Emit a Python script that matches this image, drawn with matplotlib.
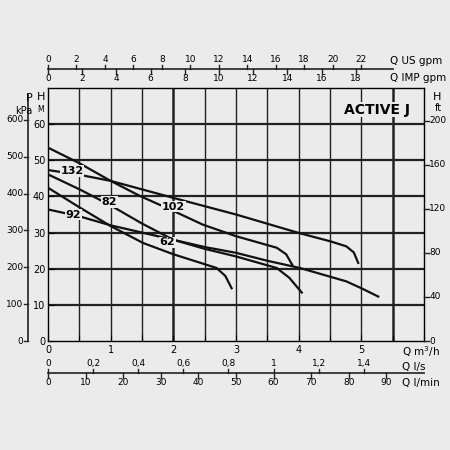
import matplotlib
matplotlib.use("Agg")
import matplotlib.pyplot as plt
import numpy as np
from matplotlib.transforms import blended_transform_factory

BG = "#ebebeb"
# curves: Q (m3/h), H (m)
q132 = [0, 0.5, 1.0, 2.0, 3.0, 4.0, 4.5, 4.76, 4.88, 4.95]
h132 = [47.3, 46.0, 44.3, 39.6, 35.0, 29.9, 27.6, 26.2, 24.5, 21.6]
q102 = [0, 0.5, 1.0, 1.47, 2.0, 2.47, 3.0, 3.65, 3.8, 3.9]
h102 = [53.5, 49.2, 44.3, 40.1, 36.0, 32.2, 29.0, 25.8, 24.0, 21.0]
q82 = [0, 0.51, 1.0, 1.5, 2.0, 2.5, 3.0, 3.65, 3.85, 4.05]
h82 = [46.1, 41.9, 37.5, 32.5, 28.0, 25.5, 23.4, 20.2, 17.5, 13.4]
q92 = [0, 0.5, 1.0, 1.5, 2.0, 2.5, 3.0, 3.5, 4.02, 4.76, 5.0, 5.27]
h92 = [36.4, 34.5, 32.0, 30.0, 28.0, 26.0, 24.4, 22.2, 20.2, 16.5, 14.6, 12.3]
q62 = [0, 0.5, 1.0, 1.52, 2.0, 2.4, 2.69, 2.83, 2.93]
h62 = [42.4, 37.0, 31.8, 27.1, 24.0, 21.8, 20.2, 18.0, 14.6]
curves = [("132", q132, h132, 0.38, 47.0), ("102", q102, h102, 2.0, 37.2),
          ("82", q82, h82, 0.98, 38.5), ("92", q92, h92, 0.4, 35.0),
          ("62", q62, h62, 1.9, 27.3)]

m_ticks = [0, 1, 2, 3, 4, 5]
h_ticks = [0, 10, 20, 30, 40, 50, 60]
kpa_ticks = [0, 100, 200, 300, 400, 500, 600]
ft_ticks = [0, 40, 80, 120, 160, 200]
us_ticks = [0, 2, 4, 6, 8, 10, 12, 14, 16, 18, 20, 22]
imp_ticks = [0, 2, 4, 6, 8, 10, 12, 14, 16, 18]
ls_ticks = [0, 0.2, 0.4, 0.6, 0.8, 1, 1.2, 1.4]
lmin_ticks = [0, 10, 20, 30, 40, 50, 60, 70, 80, 90]

fig = plt.figure(figsize=(4.5, 4.5), dpi=100, facecolor=BG)
L, R, B, T = 48/450, 424/450, 1-341/450, 1-88/450
ax = fig.add_axes([L, B, R-L, T-B], facecolor=BG)
ax.set_xlim(0, 6)
ax.set_ylim(0, 70)
for x in np.arange(0.5, 6, 0.5):
    lw = 1.8 if x in (2.0, 5.5) else 1.0
    ax.axvline(x, color="#222", lw=lw, zorder=1)
for y in range(10, 70, 10):
    ax.axhline(y, color="#222", lw=1.6, zorder=1)
for s in ax.spines.values():
    s.set_linewidth(1.0)
for name, q, h, lx, ly in curves:
    ax.plot(q, h, color="#111", lw=1.6, zorder=3)
    ax.text(lx, ly, name, fontsize=8, fontweight="bold", family="Liberation Sans Narrow",
            ha="center", va="center", zorder=4,
            bbox=dict(facecolor=BG, edgecolor="none", pad=0.5))
ax.text(5.78, 64, "ACTIVE J", fontsize=10, fontweight="bold", ha="right", va="center",
        family="Liberation Sans Narrow", zorder=5,
        bbox=dict(facecolor=BG, edgecolor="none", pad=0.3))
ax.set_xticks(np.arange(0, 6.01, 0.5))
ax.set_xticklabels([str(int(v)) if v in m_ticks else "" for v in np.arange(0, 6.01, 0.5)])
ax.set_yticks(h_ticks)
ax.tick_params(axis="both", labelsize=7, direction="in", length=4, pad=2)
ax.tick_params(axis="x", pad=3)
ax.set_yticklabels([str(v) for v in h_ticks])

# P kPa axis at left
tr = blended_transform_factory(fig.transFigure, ax.transData)
xp = 28/450
fig.add_artist(plt.Line2D([xp, xp], [0, 68], transform=tr, color="#222", lw=1.2))
for k in kpa_ticks:
    hy = k / 9.81
    fig.add_artist(plt.Line2D([xp-0.008, xp], [hy, hy], transform=tr, color="#222", lw=1))
    fig.text(xp-0.01, hy, str(k), transform=tr, fontsize=6.5, ha="right", va="center")
# ft axis right
for f in ft_ticks:
    hy = f * 0.3048
    fig.add_artist(plt.Line2D([R, R+0.01], [hy, hy], transform=tr, color="#222", lw=1))
    fig.text(R+0.012, hy, str(f), transform=tr, fontsize=6.5, ha="left", va="center")

trx = blended_transform_factory(ax.transData, fig.transFigure)
def scale(yf, ticks, x_end, factor):
    fig.add_artist(plt.Line2D([0, x_end], [yf, yf], transform=trx, color="#222", lw=1.2))
    for t in ticks:
        xq = t / factor
        fig.add_artist(plt.Line2D([xq, xq], [yf, yf+0.01], transform=trx, color="#222", lw=1))
        fig.text(xq, yf + 0.012, ("%g" % t).replace(".", ","), transform=trx,
                 fontsize=6.5, ha="center", va="bottom")

ytop = 1 - 69/450
scale(ytop, us_ticks, 5.5, 4.403)
for t in imp_ticks:
    xq = t / 3.666
    fig.add_artist(plt.Line2D([xq, xq], [ytop, ytop-0.01], transform=trx, color="#222", lw=1))
    fig.text(xq, ytop-0.012, str(t), transform=trx, fontsize=6.5, ha="center", va="top")
fig.text(390/450, ytop+0.006, "Q US gpm", fontsize=7.5, ha="left", va="bottom")
fig.text(390/450, ytop-0.008, "Q IMP gpm", fontsize=7.5, ha="left", va="top")

ybot = 1 - 373/450
scale(ybot, ls_ticks, 6.0, 0.27778)
for t in lmin_ticks:
    xq = t / 16.667
    fig.add_artist(plt.Line2D([xq, xq], [ybot, ybot-0.01], transform=trx, color="#222", lw=1))
    fig.text(xq, ybot-0.012, str(t), transform=trx, fontsize=6.5, ha="center", va="top")
fig.text(402/450, 1-352/450, "Q m$^3$/h", fontsize=7.5, ha="left", va="center")
fig.text(402/450, 1-367/450, "Q l/s", fontsize=7.5, ha="left", va="center")
fig.text(402/450, 1-383/450, "Q l/min", fontsize=7.5, ha="left", va="center")

fig.text(29/450, 1-98/450, "P", fontsize=8, ha="center", va="center")
fig.text(24/450, 1-111/450, "kPa", fontsize=7, ha="center", va="center")
fig.text(41/450, 1-97/450, "H", fontsize=8, ha="center", va="center")
fig.text(41/450, 1-110/450, "M", fontsize=5.5, ha="center", va="center")
fig.text(437/450, 1-97/450, "H", fontsize=8, ha="center", va="center")
fig.text(438/450, 1-108/450, "ft", fontsize=7, ha="center", va="center")

fig.savefig("out.png", dpi=100, facecolor=BG)
